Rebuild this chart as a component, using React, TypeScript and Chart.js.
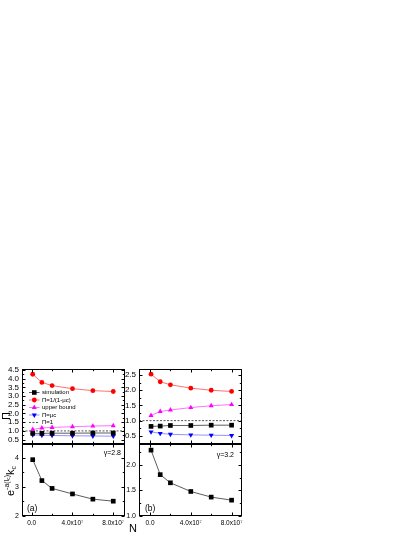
import React, { useEffect, useRef } from 'react';
import { Chart, registerables } from 'chart.js';

Chart.register(...registerables);

const FONT = "'Liberation Sans', Arial, Helvetica, sans-serif";

// ---------- data ----------
const nValues = [1e6, 1e7, 2e7, 4e7, 6e7, 8e7];

// panel (a), top: Pi
const simA = [0.86, 0.86, 0.87, 0.87, 0.88, 0.88];
const inverseA = [4.25, 3.78, 3.6, 3.42, 3.31, 3.26];
const upperA = [1.08, 1.17, 1.2, 1.24, 1.28, 1.3];
const muA = [0.78, 0.75, 0.74, 0.72, 0.71, 0.7];

// panel (b), top: Pi
const simB = [0.81, 0.82, 0.84, 0.84, 0.85, 0.85];
const inverseB = [2.53, 2.28, 2.18, 2.07, 2.0, 1.96];
const upperB = [1.17, 1.3, 1.35, 1.43, 1.49, 1.53];
const muB = [0.63, 0.58, 0.55, 0.53, 0.52, 0.51];

// bottom panels: e^{-a(l_c)} k_c
const ekA = [3.94, 3.22, 2.95, 2.76, 2.58, 2.51];
const ekB = [2.29, 1.81, 1.65, 1.48, 1.37, 1.31];

const legendLabels = ['simulation', 'Π=1/(1-μc)', 'upper bound', 'Π=μc', 'Π=1'];
const gammaLabels = ['γ=2.8', 'γ=3.2'];
const panelLabels = ['(a)', '(b)'];

// ticks
const xMajor = [0, 4e7, 8e7];
const xMinor = [2e7, 6e7];
const yMajorTopA = [0.5, 1, 1.5, 2, 2.5, 3, 3.5, 4, 4.5];
const yMinorTopA = [0.75, 1.25, 1.75, 2.25, 2.75, 3.25, 3.75, 4.25];
const yMajorTopB = [0.5, 1, 1.5, 2, 2.5];
const yMinorTopB = [0.25, 0.75, 1.25, 1.75, 2.25];
const yMajorBotA = [2, 3, 4];
const yMinorBotA = [2.5, 3.5];
const yMajorBotB = [1, 1.5, 2];
const yMinorBotB = [1.25, 1.75, 2.25];

const fmtN = (v: number) => (v === 0 ? '0.0' : (v / 1e7).toFixed(1) + 'x10⁷');

const pts = (ys: number[]) => nValues.map((x, i) => ({ x, y: ys[i] }));

function series(ys: number[], color: string, line: string, style: string, rot = 0, r = 3) {
  return {
    data: pts(ys),
    borderColor: line,
    backgroundColor: color,
    pointBackgroundColor: color,
    pointBorderColor: color,
    pointBorderWidth: 0,
    pointStyle: style,
    pointRotation: rot,
    pointRadius: r,
    borderWidth: 0.8,
    tension: 0,
    fill: false,
  };
}

function dashed(xMin: number, xMax: number) {
  return {
    data: [
      { x: xMin, y: 1 },
      { x: xMax, y: 1 },
    ],
    borderColor: '#555',
    borderWidth: 1,
    borderDash: [2, 1.5],
    pointRadius: 0,
    fill: false,
  };
}

function marker(ctx: CanvasRenderingContext2D, kind: string, x: number, y: number, color: string) {
  ctx.fillStyle = color;
  ctx.beginPath();
  if (kind === 'rect') {
    ctx.rect(x - 2.3, y - 2.3, 4.6, 4.6);
  } else if (kind === 'circle') {
    ctx.arc(x, y, 2.4, 0, Math.PI * 2);
  } else if (kind === 'up') {
    ctx.moveTo(x, y - 2.9);
    ctx.lineTo(x + 2.5, y + 1.45);
    ctx.lineTo(x - 2.5, y + 1.45);
    ctx.closePath();
  } else if (kind === 'down') {
    ctx.moveTo(x, y + 2.9);
    ctx.lineTo(x + 2.5, y - 1.45);
    ctx.lineTo(x - 2.5, y - 1.45);
    ctx.closePath();
  }
  ctx.fill();
}

type Piece = { t: string; size: number; dy: number };
function drawRichRotated(ctx: CanvasRenderingContext2D, pieces: Piece[], cx: number, cy: number) {
  ctx.save();
  ctx.translate(cx, cy);
  ctx.rotate(-Math.PI / 2);
  let total = 0;
  const widths = pieces.map((p) => {
    ctx.font = `${p.size}px ${FONT}`;
    const w = ctx.measureText(p.t).width;
    total += w;
    return w;
  });
  let x = -total / 2;
  ctx.textBaseline = 'alphabetic';
  ctx.textAlign = 'left';
  ctx.fillStyle = '#000';
  pieces.forEach((p, i) => {
    ctx.font = `${p.size}px ${FONT}`;
    ctx.fillText(p.t, x, p.dy);
    x += widths[i];
  });
  ctx.restore();
}

function label(ctx: CanvasRenderingContext2D, s: string, x: number, y: number, size: number, align: CanvasTextAlign = 'left') {
  ctx.save();
  ctx.font = `${size}px ${FONT}`;
  ctx.fillStyle = '#000';
  ctx.textAlign = align;
  ctx.textBaseline = 'middle';
  ctx.fillText(s, x, y);
  ctx.restore();
}

type Spec = {
  canvas: { left: number; top: number; width: number; height: number };
  yWidth: number;
  pad: { top: number; right: number; bottom: number };
  xHeight: number;
  xMin: number;
  xMax: number;
  yMin: number;
  yMax: number;
  yMajor: number[];
  yMinor: number[];
  yFmt: (v: number) => string;
  yFont: number;
  datasets: any[];
  extra?: (ctx: CanvasRenderingContext2D, chart: any) => void;
};

function drawFrame(chart: any, spec: Spec) {
  const { ctx, chartArea: a } = chart;
  const xs = chart.scales.x;
  const ys = chart.scales.y;
  const L = Math.round(a.left) + 0.5;
  const R = Math.round(a.right) - 0.5;
  const T = Math.round(a.top) + 0.5;
  const B = Math.round(a.bottom) - 0.5;
  ctx.save();
  ctx.strokeStyle = '#000';
  ctx.lineWidth = 1;
  ctx.strokeRect(L, T, R - L, B - T);
  ctx.beginPath();
  const yt = (vals: number[], len: number) =>
    vals.forEach((v) => {
      if (v < spec.yMin || v > spec.yMax) return;
      const p = Math.round(ys.getPixelForValue(v)) + 0.5;
      ctx.moveTo(L, p);
      ctx.lineTo(L + len, p);
      ctx.moveTo(R, p);
      ctx.lineTo(R - len, p);
    });
  const xt = (vals: number[], len: number) =>
    vals.forEach((v) => {
      const p = Math.round(xs.getPixelForValue(v)) + 0.5;
      ctx.moveTo(p, B);
      ctx.lineTo(p, B - len);
      ctx.moveTo(p, T);
      ctx.lineTo(p, T + len);
    });
  yt(spec.yMajor, 3);
  yt(spec.yMinor, 1.7);
  xt(xMajor, 3);
  xt(xMinor, 1.7);
  ctx.stroke();
  ctx.restore();
  if (spec.extra) {
    // extra annotations are given in page coordinates
    ctx.save();
    ctx.translate(-spec.canvas.left, -spec.canvas.top);
    spec.extra(ctx, chart);
    ctx.restore();
  }
}

function buildConfig(spec: Spec): any {
  const showX = spec.xHeight > 0;
  return {
    type: 'line',
    data: { datasets: spec.datasets },
    options: {
      animation: false,
      responsive: false,
      events: [],
      layout: {
        autoPadding: false,
        padding: { left: 0, top: spec.pad.top, right: spec.pad.right, bottom: spec.pad.bottom },
      },
      plugins: { legend: { display: false }, tooltip: { enabled: false } },
      scales: {
        x: {
          type: 'linear',
          display: showX,
          min: spec.xMin,
          max: spec.xMax,
          grid: { display: false, drawTicks: false },
          border: { display: false },
          afterBuildTicks: (s: any) => {
            s.ticks = xMajor.map((v) => ({ value: v }));
          },
          afterFit: (s: any) => {
            s.height = spec.xHeight;
          },
          ticks: {
            font: { family: FONT, size: 6.5 },
            color: '#000',
            padding: 3,
            maxRotation: 0,
            minRotation: 0,
            autoSkip: false,
            callback: (v: number) => fmtN(v),
          },
        },
        y: {
          type: 'linear',
          min: spec.yMin,
          max: spec.yMax,
          grid: { display: false, drawTicks: false },
          border: { display: false },
          afterBuildTicks: (s: any) => {
            s.ticks = spec.yMajor.map((v) => ({ value: v }));
          },
          afterFit: (s: any) => {
            s.width = spec.yWidth;
          },
          ticks: {
            font: { family: FONT, size: spec.yFont },
            color: '#000',
            padding: 3,
            autoSkip: false,
            callback: (v: number) => spec.yFmt(v),
          },
        },
      },
    },
    plugins: [
      {
        id: 'frame',
        afterDraw: (chart: any) => drawFrame(chart, spec),
      },
    ],
  };
}

const xMinA = -0.95e7;
const xMaxA = 9.15e7;
const xMinB = -1.08e7;
const xMaxB = 9.02e7;

const legendRows = [
  { kind: 'rect', color: '#000', line: '#333', y: 392.5 },
  { kind: 'circle', color: '#ff0000', line: 'rgba(255,0,0,0.7)', y: 400 },
  { kind: 'up', color: '#ff00ff', line: 'rgba(255,0,255,0.7)', y: 407.5 },
  { kind: 'down', color: '#0000ff', line: 'rgba(60,60,255,0.7)', y: 415 },
  { kind: 'dash', color: '#555', line: '#555', y: 422.5 },
];

function topAExtra(ctx: CanvasRenderingContext2D) {
  legendRows.forEach((r, i) => {
    ctx.save();
    ctx.beginPath();
    ctx.strokeStyle = r.line;
    ctx.lineWidth = r.kind === 'dash' ? 1 : 0.8;
    ctx.setLineDash(r.kind === 'dash' ? [2, 1.5] : []);
    ctx.moveTo(29, r.y);
    ctx.lineTo(39.5, r.y);
    ctx.stroke();
    ctx.setLineDash([]);
    if (r.kind !== 'dash') marker(ctx, r.kind, 34.3, r.y, r.color);
    ctx.restore();
    label(ctx, legendLabels[i], 42, r.y, 6);
  });
  drawRichRotated(ctx, [{ t: 'Π', size: 11, dy: 0 }], 10, 416);
}

function botAExtra(ctx: CanvasRenderingContext2D) {
  drawRichRotated(
    ctx,
    [
      { t: 'e', size: 11, dy: 0 },
      { t: '-a(', size: 7, dy: -5 },
      { t: 'l', size: 7, dy: -5 },
      { t: 'c', size: 5, dy: -3.5 },
      { t: ')', size: 7, dy: -5 },
      { t: 'k', size: 11, dy: 0 },
      { t: 'c', size: 7, dy: 2 },
    ],
    13.5,
    481
  );
  label(ctx, gammaLabels[0], 121, 453, 7, 'right');
  label(ctx, panelLabels[0], 27, 509, 8.5, 'left');
  label(ctx, 'N', 133, 529, 11, 'center');
}

function botBExtra(ctx: CanvasRenderingContext2D) {
  label(ctx, gammaLabels[1], 234, 455, 7, 'right');
  label(ctx, panelLabels[1], 145, 509, 8.5, 'left');
}

const specs: Spec[] = [
  {
    canvas: { left: 0, top: 360, width: 131, height: 92 },
    yWidth: 22,
    pad: { top: 9, right: 6, bottom: 8 },
    xHeight: 0,
    xMin: xMinA,
    xMax: xMaxA,
    yMin: 0.25,
    yMax: 4.55,
    yMajor: yMajorTopA,
    yMinor: yMinorTopA,
    yFmt: (v) => v.toFixed(1),
    yFont: 8,
    datasets: [
      series(simA, '#000', '#333', 'rect', 0, 3.3),
      series(inverseA, '#ff0000', 'rgba(255,0,0,0.7)', 'circle', 0, 2.4),
      series(upperA, '#ff00ff', 'rgba(255,0,255,0.7)', 'triangle', 0, 2.9),
      series(muA, '#0000ff', 'rgba(60,60,255,0.7)', 'triangle', 180, 2.9),
      dashed(xMinA, xMaxA),
    ],
    extra: topAExtra,
  },
  {
    canvas: { left: 0, top: 436, width: 145, height: 101 },
    yWidth: 22,
    pad: { top: 8, right: 20, bottom: 0 },
    xHeight: 21,
    xMin: xMinA,
    xMax: xMaxA,
    yMin: 2,
    yMax: 4.48,
    yMajor: yMajorBotA,
    yMinor: yMinorBotA,
    yFmt: (v) => String(v),
    yFont: 7,
    datasets: [series(ekA, '#000', '#333', 'rect', 0, 3.3)],
    extra: botAExtra,
  },
  {
    canvas: { left: 118, top: 360, width: 130, height: 92 },
    yWidth: 21,
    pad: { top: 9, right: 6, bottom: 8 },
    xHeight: 0,
    xMin: xMinB,
    xMax: xMaxB,
    yMin: 0.23,
    yMax: 2.7,
    yMajor: yMajorTopB,
    yMinor: yMinorTopB,
    yFmt: (v) => v.toFixed(1),
    yFont: 8,
    datasets: [
      series(simB, '#000', '#333', 'rect', 0, 3.3),
      series(inverseB, '#ff0000', 'rgba(255,0,0,0.7)', 'circle', 0, 2.4),
      series(upperB, '#ff00ff', 'rgba(255,0,255,0.7)', 'triangle', 0, 2.9),
      series(muB, '#0000ff', 'rgba(60,60,255,0.7)', 'triangle', 180, 2.9),
      dashed(xMinB, xMaxB),
    ],
  },
  {
    canvas: { left: 118, top: 436, width: 134, height: 101 },
    yWidth: 21,
    pad: { top: 8, right: 10, bottom: 0 },
    xHeight: 21,
    xMin: xMinB,
    xMax: xMaxB,
    yMin: 1.0,
    yMax: 2.41,
    yMajor: yMajorBotB,
    yMinor: yMinorBotB,
    yFmt: (v) => v.toFixed(1),
    yFont: 7,
    datasets: [series(ekB, '#000', '#333', 'rect', 0, 3.3)],
    extra: botBExtra,
  },
];

function Panel({ spec }: { spec: Spec }) {
  const ref = useRef<HTMLCanvasElement>(null);
  useEffect(() => {
    const chart = new Chart(ref.current as HTMLCanvasElement, buildConfig(spec));
    return () => chart.destroy();
  }, [spec]);
  const c = spec.canvas;
  return (
    <canvas
      ref={ref}
      width={c.width}
      height={c.height}
      style={{ position: 'absolute', left: c.left, top: c.top, width: c.width, height: c.height }}
    />
  );
}

export default function App() {
  return (
    <div style={{ position: 'absolute', left: 0, top: 0, width: 415, height: 537, background: '#fff' }}>
      {specs.map((s, i) => (
        <Panel key={i} spec={s} />
      ))}
    </div>
  );
}
